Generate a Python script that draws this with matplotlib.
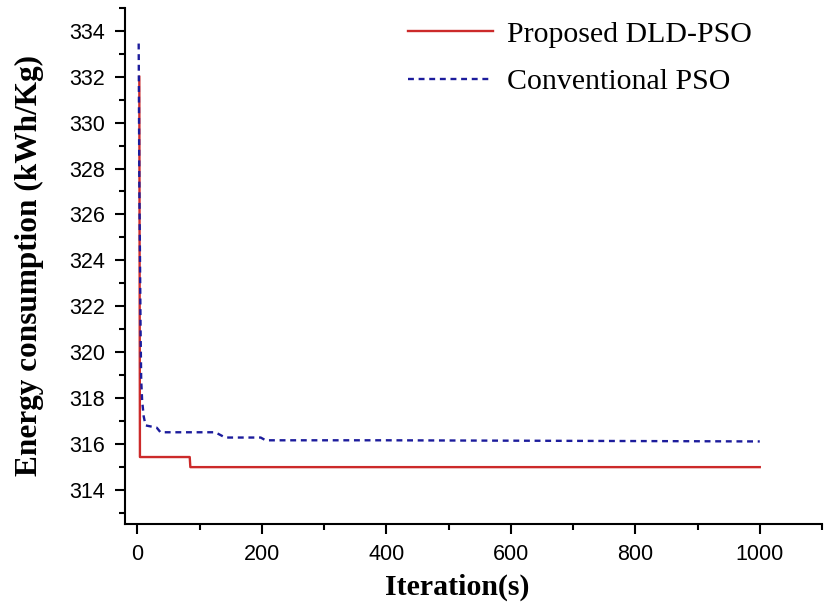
import matplotlib
matplotlib.use("Agg")
import matplotlib.pyplot as plt
from matplotlib.ticker import MultipleLocator

# values
dld_x = [3, 4, 84, 85, 1000]
dld_y = [332.0, 315.42, 315.42, 314.98, 314.98]

pso_x = [2, 3, 5, 6, 7.5, 10, 13, 31, 37, 125, 141, 198, 206, 400, 1000]
pso_y = [333.45, 327.5, 321.0, 318.8, 317.9, 317.2, 316.8, 316.7, 316.5,
         316.5, 316.27, 316.27, 316.15, 316.15, 316.1]

labels = ["Proposed DLD-PSO", "Conventional PSO"]

fig = plt.figure(figsize=(8.4, 6.08), dpi=100)
ax = fig.add_axes([125 / 840, 1 - 524 / 608, (822 - 125) / 840, (524 - 8) / 608])

ax.plot(dld_x, dld_y, color="#cc2a2a", lw=1.7, label=labels[0])
ax.plot(pso_x, pso_y, color="#1c1c9c", lw=1.7, ls=(0, (2.5, 2.0)), label=labels[1])

ax.set_xlim(-20, 1100)
ax.set_ylim(312.5, 335)
ax.xaxis.set_major_locator(MultipleLocator(200))
ax.xaxis.set_minor_locator(MultipleLocator(100))
ax.yaxis.set_major_locator(MultipleLocator(2))
ax.yaxis.set_minor_locator(MultipleLocator(1))

for s in ["top", "right"]:
    ax.spines[s].set_visible(False)
for s in ["left", "bottom"]:
    ax.spines[s].set_linewidth(1.5)

ax.tick_params(which="major", direction="out", length=7.5, width=1.5,
               labelsize=15.5, pad=7)
ax.tick_params(which="minor", direction="out", length=4, width=1.5)
for t in ax.get_xticklabels() + ax.get_yticklabels():
    t.set_fontfamily("Liberation Sans")

ax.set_xlabel("Iteration(s)", fontfamily="Liberation Serif", fontweight="bold",
              fontsize=21.5, labelpad=6, x=0.476)
ax.set_ylabel("Energy consumption (kWh/Kg)", fontfamily="Liberation Serif",
              fontweight="bold", fontsize=22.5, labelpad=18)

leg = ax.legend(loc="upper left", bbox_to_anchor=(408 / 840, 1 - 21 / 608),
                bbox_transform=fig.transFigure, frameon=False, borderpad=0,
                borderaxespad=0, handlelength=2.85, handletextpad=0.45,
                labelspacing=0.68,
                prop={"family": "Liberation Serif", "size": 21.5})

fig.savefig("out.png", dpi=100)
